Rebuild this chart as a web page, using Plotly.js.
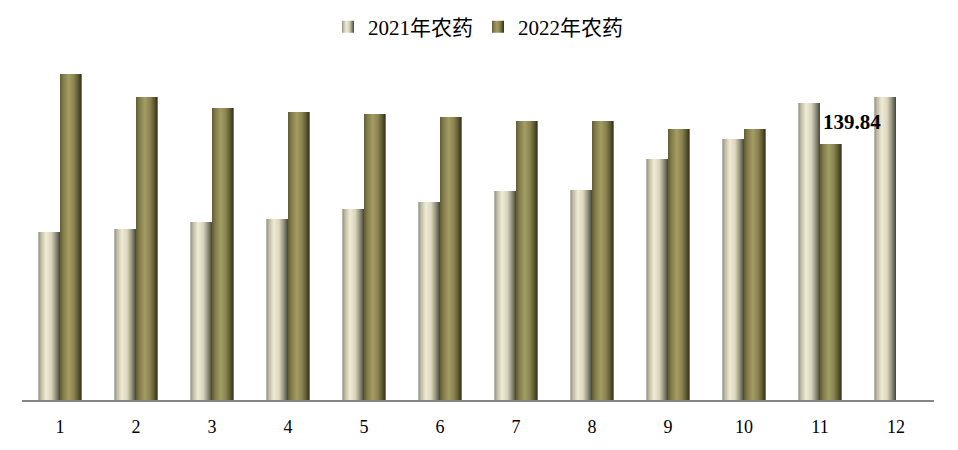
<!DOCTYPE html>
<html>
<head>
<meta charset="utf-8">
<script src="https://cdn.plot.ly/plotly-3.0.1.min.js"></script>
<style>html,body{margin:0;padding:0;background:#fff;}#chart{width:958px;height:450px;}</style>
</head>
<body>
<div id="chart"></div>
<script>
const months = ['1','2','3','4','5','6','7','8','9','10','11','12'];
const seriesNames = ['2021年农药', '2022年农药'];
const values2021 = [91.8, 93.4, 97.2, 98.9, 104.3, 108.2, 114.2, 114.7, 131.6, 142.6, 162.2, 165.5];
const values2022 = [178.1, 165.5, 159.5, 157.3, 156.2, 154.6, 152.4, 152.4, 148.0, 148.0, 139.84];
const labelMonth = '11';
const labelValue = 139.84;

const fontFam = '"Liberation Serif", "Times New Roman", "Noto Sans CJK SC", serif';

const traces = [
  {type: 'bar', name: seriesNames[0], x: months, y: values2021,
   marker: {color: '#cfcab2', line: {width: 0}}, hoverinfo: 'none'},
  {type: 'bar', name: seriesNames[1], x: months.slice(0, values2022.length), y: values2022,
   marker: {color: '#8c8650', line: {width: 0}}, hoverinfo: 'none'}
];

const layout = {
  width: 958, height: 450,
  margin: {l: 22, r: 24, t: 55, b: 50, autoexpand: false},
  paper_bgcolor: '#ffffff', plot_bgcolor: '#ffffff',
  barmode: 'group', bargap: 0.43, bargroupgap: 0,
  showlegend: true,
  legend: {orientation: 'h', x: 0.5, xanchor: 'center', y: 0.94, yanchor: 'middle', yref: 'container',
           itemwidth: 30, font: {family: fontFam, size: 21, color: '#000'}, traceorder: 'normal'},
  xaxis: {type: 'category', automargin: false, showgrid: false, zeroline: false, showline: true, linecolor: '#868686', linewidth: 2,
          ticks: '', ticklabelstandoff: 9, tickfont: {family: fontFam, size: 18, color: '#000'}, fixedrange: true},
  yaxis: {range: [0, 188.46], automargin: false, showgrid: false, zeroline: false, showline: false, showticklabels: false, ticks: '', fixedrange: true},
  annotations: [{x: months.indexOf(labelMonth), y: labelValue, xref: 'x', yref: 'y', text: '<b>' + labelValue.toFixed(2) + '</b>',
                 showarrow: false, xanchor: 'center', yanchor: 'middle', xshift: 32, yshift: 22,
                 font: {family: fontFam, size: 21, color: '#000'}}]
};

Plotly.newPlot('chart', traces, layout, {displayModeBar: false, staticPlot: true}).then(function (gd) {
  const svg = gd.querySelector('svg.main-svg');
  const ns = 'http://www.w3.org/2000/svg';
  let defs = svg.querySelector('defs');
  if (!defs) { defs = document.createElementNS(ns, 'defs'); svg.insertBefore(defs, svg.firstChild); }
  function grad(id, stops) {
    const g = document.createElementNS(ns, 'linearGradient');
    g.setAttribute('id', id); g.setAttribute('x1', '0'); g.setAttribute('x2', '1'); g.setAttribute('y1', '0'); g.setAttribute('y2', '0');
    stops.forEach(function (s) {
      const st = document.createElementNS(ns, 'stop');
      st.setAttribute('offset', s[0]); st.setAttribute('stop-color', s[1]); g.appendChild(st);
    });
    defs.appendChild(g);
  }
  grad('g2021', [['0', '#8f8d7c'], ['0.12', '#bdb9a4'], ['0.35', '#f0ebd3'], ['0.6', '#d9d4bb'], ['0.82', '#8e8b78'], ['1', '#45443a']]);
  grad('g2022', [['0', '#5e5a34'], ['0.12', '#7c7646'], ['0.4', '#a39c62'], ['0.65', '#8a8350'], ['0.85', '#5a5530'], ['1', '#2e2c18']]);
  const ids = ['g2021', 'g2022'];
  gd.querySelectorAll('.barlayer .trace').forEach(function (tr, i) {
    tr.querySelectorAll('path').forEach(function (p) { p.style.fill = 'url(#' + ids[i] + ')'; });
  });
  gd.querySelectorAll('.legend .traces').forEach(function (tr, i) {
    tr.querySelectorAll('.legendpoints path').forEach(function (p) { p.style.fill = 'url(#' + ids[i] + ')'; });
  });
});
</script>
</body>
</html>
